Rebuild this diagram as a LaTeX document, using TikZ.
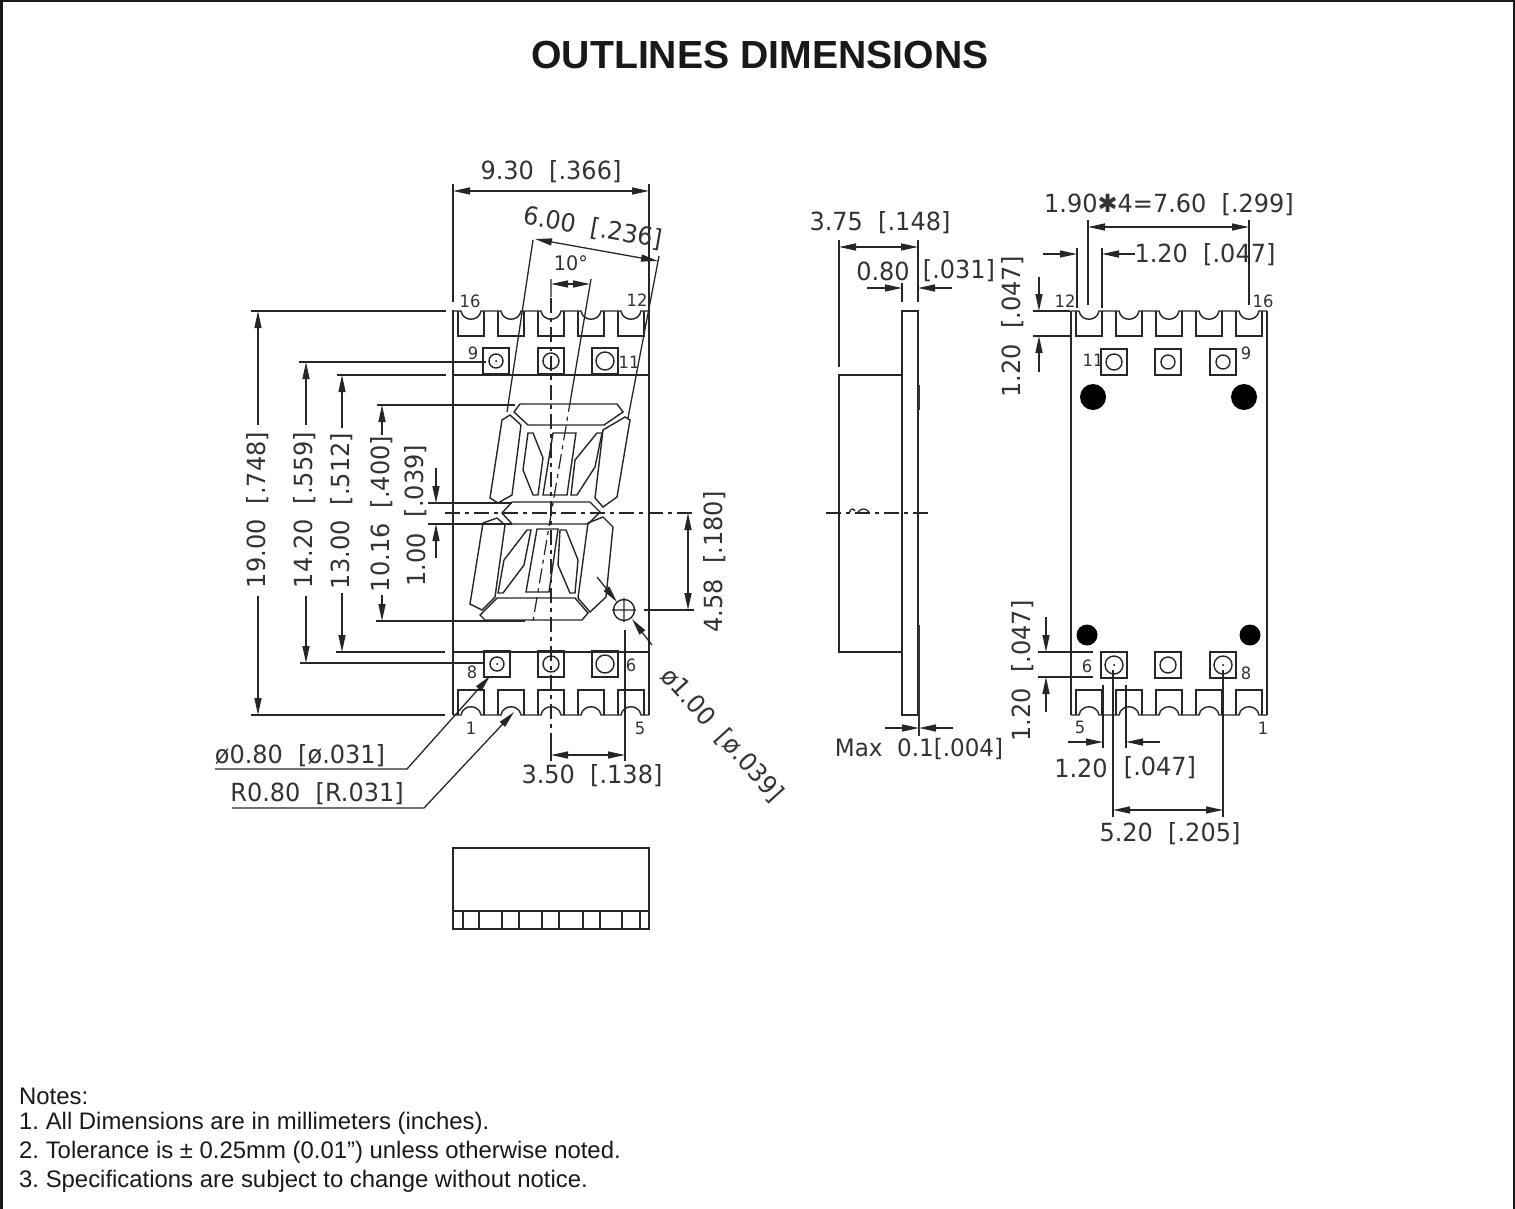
\documentclass[tikz,border=0pt]{standalone}
\usepackage{fontspec}
\setmainfont{Liberation Sans}
\newfontfamily\cadfont[FakeStretch=0.96]{DejaVu Sans}
\usetikzlibrary{arrows.meta}

\tikzset{
  part/.style={line width=1.4pt,black!85},
  thick part/.style={line width=2pt,black!80},
  dimline/.style={line width=1.3pt,black!85},
  dimboth/.style={dimline,{Triangle[length=17pt,width=7pt]}-{Triangle[length=17pt,width=7pt]}},
  dimend/.style={dimline,-{Triangle[length=17pt,width=7pt]}},
  center line/.style={line width=1.2pt,black!85,dash pattern=on 15pt off 5pt on 4pt off 5pt},
  dimtext/.style={inner sep=0pt,black!80,font=\cadfont\fontsize{25}{25}\selectfont},
  pintext/.style={inner sep=0pt,black!80,font=\cadfont\fontsize{17}{17}\selectfont},
  notes/.style={inner sep=0pt,anchor=west,black!90,font=\frenchspacing\fontsize{23.9}{23.9}\selectfont},
  notch/.pic={
    \draw[part] (-13,0) -- (-13,25) -- (13,25) -- (13,0);
    \draw[part] (-20,0) -- (-10,0) .. controls (-8,11) and (8,11) .. (10,0) -- (20,0);
  },
  padbox/.pic={\draw[part] (-13,-13) rectangle (13,13);},
}

\begin{document}
\begin{tikzpicture}[x=1pt,y=-1pt]
  \useasboundingbox (0,0) rectangle (1515,1209);
  \draw[line width=2.4pt,black!90] (1.5,1209) -- (1.5,1) -- (1514,1) -- (1514,1209);
  \node[inner sep=0pt,font=\bfseries\fontsize{39.2}{39.2}\selectfont,black!90] (title) at (760,55) {OUTLINES DIMENSIONS};

  % front view
  \draw[part] (453,310) -- (453,715) (649,184) -- (649,715) (453,375) -- (649,375) (453,652) -- (649,652);
  \draw[part] (453,184) -- (453,302);
  \begin{scope}
    \clip (453,300) rectangle (649,725);
    \foreach \x in {471,511,551,591,631} {
      \pic at (\x,311) {notch};
      \pic[yscale=-1] at (\x,715) {notch};
    }
  \end{scope}
  \foreach \x/\y/\r in {496/361/7,551/361/8,605/361/9,497/664/7,551/664/8,605/664/9} {
    \pic at (\x,\y) {padbox};
    \draw[part] (\x,\y) circle (\r);
  }
  \fill (496,361) circle (1) (497,664) circle (1);
  \node[pintext] (pinfl) at (470,301) {16};
  \node[pintext] (pinft) at (637,300) {12};
  \node[pintext] (pinfn) at (473,353) {9};
  \node[pintext] (pinfe) at (629,362) {11};
  \node[pintext] (pinfi) at (472,672) {8};
  \node[pintext] (pinfs) at (631,665) {6};
  \node[pintext] (pinfo) at (471,728) {1};
  \node[pintext] (pinfv) at (640,728) {5};

  % digit segments
  \draw[part] (520,404) -- (617,404) -- (623,412) -- (604,425) -- (528,425) -- (514,412) -- cycle;
  \draw[part] (510,415) -- (521,425) -- (512,495) -- (498,503) -- (490,498) -- (502,420) -- cycle;
  \draw[part] (625,417) -- (630,420) -- (617,497) -- (603,507) -- (595,498) -- (603,430) -- cycle;
  \draw[part] (512,502) -- (590,502) -- (600,512) -- (588,524) -- (512,524) -- (502,513) -- cycle;
  \draw[part] (497,518) -- (505,525) -- (495,597) -- (482,610) -- (470,604) -- (483,523) -- cycle;
  \draw[part] (603,517) -- (613,527) -- (606,597) -- (590,612) -- (578,598) -- (588,523) -- cycle;
  \draw[part] (497,598) -- (575,598) -- (588,613) -- (582,620) -- (485,620) -- (480,615) -- cycle;
  \draw[part] (553,433) -- (576,433) -- (567,495) -- (543,495) -- cycle;
  \draw[part] (537,529) -- (558,529) -- (549,592) -- (526,592) -- cycle;
  \draw[part] (528,433) -- (533,433) -- (543,458) -- (538,495) -- (533,495) -- (523,470) -- cycle;
  \draw[part] (597,433) -- (602,433) -- (595,467) -- (577,495) -- (571,495) -- (575,460) -- cycle;
  \draw[part] (527,530) -- (531,530) -- (524,565) -- (503,593) -- (498,593) -- (504,560) -- cycle;
  \draw[part] (560,530) -- (566,530) -- (578,560) -- (575,593) -- (570,593) -- (558,565) -- cycle;
  \draw[center line] (551,298) -- (551,737);
  \draw[center line] (445,513) -- (694,513);
  \draw[center line] (571,397) -- (533,621);

  % front view dimensions
  \draw[dimboth] (453,191) -- (649,191);
  \node[dimtext] (widthtext) at (551,172) {9.30~~[.366]};
  \draw[dimline] (533,240) -- (507,412) (659,256) -- (628,418);
  \draw[dimboth] (535,239) -- (658,261);
  \node[dimtext,rotate=-10] (pitchtext) at (593,228) {6.00~~[.236]};
  \draw[dimline] (551,279) -- (551,297) (591,279) -- (571,397);
  \draw[dimboth] (551,284) -- (590,284);
  \node[dimtext,font=\cadfont\fontsize{20}{20}\selectfont] (angletext) at (571,263) {10°};

  \draw[dimline] (251,311) -- (446,311) (251,715) -- (445,715);
  \draw[dimend] (258,425) -- (258,311);
  \draw[dimend] (258,596) -- (258,715);
  \node[dimtext,rotate=90] (heighttext) at (258,510) {19.00~~[.748]};
  \draw[dimline] (299,362) -- (486,362) (300,663) -- (485,663);
  \draw[dimend] (306,425) -- (306,362);
  \draw[dimend] (306,596) -- (306,663);
  \node[dimtext,rotate=90] (rowtext) at (305,510) {14.20~~[.559]};
  \draw[dimline] (337,375) -- (446,375) (336,652) -- (445,652);
  \draw[dimend] (342,428) -- (342,375);
  \draw[dimend] (342,593) -- (342,652);
  \node[dimtext,rotate=90] (facetext) at (342,511) {13.00~~[.512]};
  \draw[dimline] (377,405) -- (515,405) (376,621) -- (525,621);
  \draw[dimend] (382,435) -- (382,405);
  \draw[dimend] (382,595) -- (382,621);
  \node[dimtext,rotate=90] (digittext) at (382,514) {10.16~~[.400]};
  \draw[dimline] (428,503) -- (512,503) (428,524) -- (512,524);
  \draw[dimend] (436,468) -- (436,503);
  \draw[dimend] (436,558) -- (436,524);
  \node[dimtext,rotate=90] (segtext) at (416,560) {1.00};
  \node[dimtext,rotate=90] (segtextb) at (416,481) {[.039]};
  \draw[dimboth] (688,513) -- (688,610);
  \draw[dimline] (644,610) -- (694,610);
  \node[dimtext,rotate=90] (offsettext) at (715,562) {4.58~~[.180]};
  \draw[dimline] (551,737) -- (551,761) (625,630) -- (625,761);
  \draw[dimboth] (551,755) -- (625,755);
  \node[dimtext] (stepext) at (592,776) {3.50~~[.138]};

  % dot mark
  \draw[part] (624,610) circle (10.5) (624,598) -- (624,622) (612,610) -- (636,610);
  \draw[dimend] (597,577) -- (617,602);
  \draw[dimend] (652,645) -- (632,619);
  \node[dimtext,rotate=-48] (dottext) at (722,735) {ø1.00~~[ø.039]};
  \draw[dimend] (215,769) -- (407,769) -- (490,676);
  \node[dimtext] (holetext) at (300,756) {ø0.80~~[ø.031]};
  \draw[dimend] (232,808) -- (424,808) -- (514,712);
  \node[dimtext] (radiustext) at (317,794) {R0.80~~[R.031]};

  % bottom view
  \draw[part] (453,848) rectangle (649,929) (453,911) -- (649,911);
  \foreach \x in {463,479,502,519,542,559,583,600,622,640} {
    \draw[part] (\x,911) -- (\x,929);
  }

  % side view
  \draw[part] (902,311) rectangle (918,715);
  \draw[part] (902,375) -- (839,375) -- (839,652) -- (902,652);
  \draw[thick part] (919,385) -- (919,410) (919,625) -- (919,736);
  \draw[dimline] (839,240) -- (839,367) (918,240) -- (918,302);
  \draw[dimboth] (839,247) -- (918,247);
  \node[dimtext] (depthtext) at (880,223) {3.75~~[.148]};
  \draw[dimline] (902,283) -- (902,302) (918,280) -- (918,302);
  \draw[dimend] (867,288) -- (902,288);
  \draw[dimend] (952,288) -- (918,288);
  \node[dimtext] (platetext) at (883,271) {0.80};
  \node[dimtext] (platetextb) at (959,271) {[.031]};
  \draw[dimend] (885,728) -- (919,728);
  \draw[dimend] (953,728) -- (919,728);
  \node[dimtext,font=\cadfont\fontsize{24}{24}\selectfont] (maxtext) at (919,749) {Max\ \ 0.1[.004]};
  \draw[center line] (826,513) -- (932,513);
  \draw[dimline] (849,513) .. controls (851,508) and (853,508) .. (855,511) (858,512) .. controls (861,508) and (866,508) .. (869,512);

  % rear view
  \draw[part] (1071,311) -- (1071,715) (1267,311) -- (1267,715);
  \begin{scope}
    \clip (1071,300) rectangle (1267,725);
    \foreach \x in {1089,1129,1169,1209,1249} {
      \pic at (\x,311) {notch};
      \pic[yscale=-1] at (\x,715) {notch};
    }
  \end{scope}
  \foreach \x/\y/\r in {1114/362/8,1168/362/7,1223/362/7,1114/665/9,1168/665/8,1223/665/9} {
    \pic at (\x,\y) {padbox};
    \draw[part] (\x,\y) circle (\r);
  }
  \fill (1114,665) circle (1) (1223,665) circle (1);
  \fill (1093,397) circle (13) (1244,397) circle (13);
  \fill (1087,635) circle (10.5) (1250,635) circle (10.5);
  \node[pintext] (pinrt) at (1065,301) {12};
  \node[pintext] (pinrl) at (1263,301) {16};
  \node[pintext] (pinre) at (1093,360) {11};
  \node[pintext] (pinrn) at (1246,353) {9};
  \node[pintext] (pinrs) at (1087,666) {6};
  \node[pintext] (pinri) at (1246,673) {8};
  \node[pintext] (pinrv) at (1080,727) {5};
  \node[pintext] (pinro) at (1263,728) {1};

  % rear view dimensions
  \draw[dimline] (1088,220) -- (1088,305) (1249,220) -- (1249,305);
  \draw[dimboth] (1088,227) -- (1249,227);
  \node[dimtext] (spantext) at (1169,205) {1.90✱4=7.60~~[.299]};
  \draw[dimline] (1077,248) -- (1077,308) (1102,248) -- (1102,308);
  \draw[dimend] (1043,254) -- (1077,254);
  \draw[dimend] (1135,254) -- (1102,254);
  \node[dimtext] (notchtext) at (1205,255) {1.20~~[.047]};
  \draw[dimline] (1033,311) -- (1070,311) (1033,336) -- (1070,336);
  \draw[dimend] (1039,277) -- (1039,311);
  \draw[dimend] (1039,372) -- (1039,336);
  \node[dimtext,rotate=90] (notchtextb) at (1013,327) {1.20~~[.047]};
  \draw[dimline] (1038,652) -- (1093,652) (1038,677) -- (1093,677);
  \draw[dimend] (1046,617) -- (1046,652);
  \draw[dimend] (1046,712) -- (1046,677);
  \node[dimtext,rotate=90] (padtext) at (1023,671) {1.20~~[.047]};
  \draw[dimline] (1103,685) -- (1103,748) (1126,685) -- (1126,748);
  \draw[dimend] (1068,742) -- (1103,742);
  \draw[dimend] (1160,742) -- (1126,742);
  \node[dimtext] (padtextb) at (1081,768) {1.20};
  \node[dimtext] (padtextc) at (1160,768) {[.047]};
  \draw[dimline] (1113,670) -- (1113,817) (1223,670) -- (1223,817);
  \draw[dimboth] (1113,810) -- (1223,810);
  \node[dimtext] (padspan) at (1170,834) {5.20~~[.205]};

  % notes
  \node[notes] (noteh) at (19,1096) {Notes:};
  \node[notes] (notea) at (19,1123) {1. All Dimensions are in millimeters (inches).};
  \node[notes] (noteb) at (19,1152) {2. Tolerance is ± 0.25mm (0.01”) unless otherwise noted.};
  \node[notes] (notec) at (19,1181) {3. Specifications are subject to change without notice.};
\end{tikzpicture}
\end{document}
